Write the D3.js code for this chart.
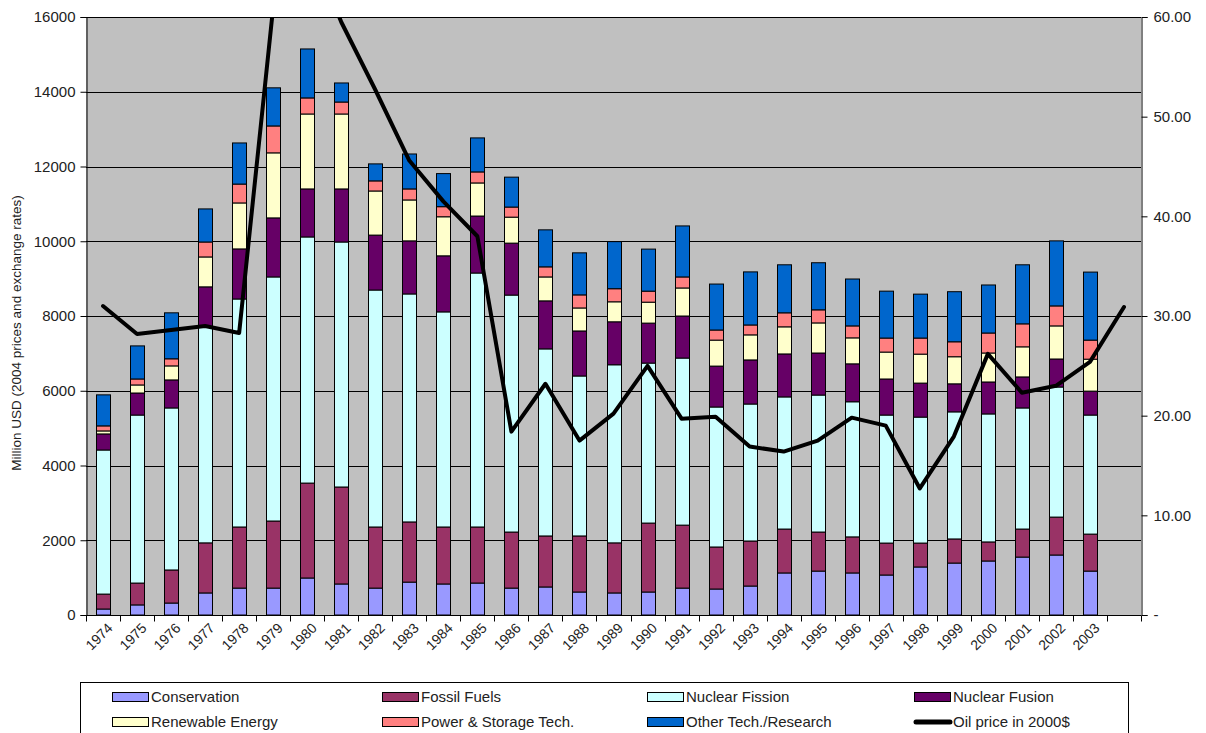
<!DOCTYPE html>
<html>
<head>
<meta charset="utf-8">
<script src="https://cdn.jsdelivr.net/npm/d3@7"></script>
<style>
  body { margin: 0; background: #fff; }
  svg text { font-family: "Liberation Sans", Arial, sans-serif; fill: #222; }
</style>
</head>
<body>
<div id="chart"></div>
<script>
// years on the category axis (2004 has only the oil price)
var years = d3.range(1974, 2005).map(String);

var seriesNames = ["Conservation", "Fossil Fuels", "Nuclear Fission", "Nuclear Fusion",
                   "Renewable Energy", "Power & Storage Tech.", "Other Tech./Research"];
var seriesColors = ["#9999ff", "#993366", "#ccffff", "#660066", "#ffffcc", "#ff8080", "#0066cc"];

// million USD, 1974..2003
var conservation = [160,270,320,590,720,720,990,830,720,880,830,855,720,750,615,590,615,720,695,775,1125,1175,1125,1070,1285,1390,1445,1550,1605,1175];
var fossil       = [400,585,885,1340,1635,1795,2540,2595,1635,1610,1525,1500,1500,1365,1500,1340,1845,1685,1125,1205,1175,1045,965,855,640,645,510,750,1015,990];
var fission      = [3855,4495,4335,5770,6100,6530,6585,6555,6340,6100,5755,6795,6340,5005,4280,4765,4280,4470,3745,3665,3535,3665,3615,3425,3370,3400,3425,3240,3480,3185];
var fusion       = [430,590,750,1080,1340,1580,1285,1420,1470,1420,1500,1525,1390,1285,1205,1150,1070,1125,1095,1180,1150,1125,1015,965,910,750,855,830,750,640];
var renewable    = [80,215,375,800,1230,1740,2005,2005,1180,1095,1045,885,695,640,615,535,560,750,695,670,725,805,695,720,775,725,775,805,885,855];
var power        = [135,160,190,400,505,720,430,320,270,295,270,295,270,270,350,350,295,295,270,265,375,350,320,375,430,400,535,615,535,510];
var other        = [830,885,1230,885,1100,1020,1310,510,455,935,885,910,800,990,1125,1260,1125,1365,1230,1420,1285,1260,1255,1255,1175,1340,1285,1580,1740,1820];

// oil price in 2000$, 1974..2004 (right axis)
var oilPrice = [31.0,28.2,28.6,29.0,28.3,61.0,68.0,59.5,52.7,45.6,41.5,38.0,18.4,23.2,17.5,20.2,25.0,19.7,19.9,16.9,16.4,17.5,19.8,19.0,12.7,17.9,26.2,22.3,23.0,25.4,30.9];

var leftTicks = [0,2000,4000,6000,8000,10000,12000,14000,16000];
var rightTicks = [0,10,20,30,40,50,60];

var margin = {top: 17, left: 86, right: 65, bottom: 118},
    width = 1141 - 86,
    height = 615 - 17;

var svg = d3.select("#chart").append("svg")
  .attr("width", 1206).attr("height", 733);

var g = svg.append("g")
  .attr("transform", "translate(" + margin.left + "," + margin.top + ")");

var x = d3.scaleBand().domain(years).range([0, width]);
var y = d3.scaleLinear().domain([0, 16000]).range([height, 0]);
var y2 = d3.scaleLinear().domain([0, 60]).range([height, 0]);

// plot background
g.append("rect").attr("width", width).attr("height", height).attr("fill", "#c0c0c0");

// gridlines
g.append("g").selectAll("line").data(leftTicks.slice(1)).enter().append("line")
  .attr("x1", 0).attr("x2", width)
  .attr("y1", function(d) { return Math.round(y(d)) + 0.5; })
  .attr("y2", function(d) { return Math.round(y(d)) + 0.5; })
  .attr("stroke", "#000").attr("stroke-width", 1);

// stacked bars
var table = years.slice(0, 30).map(function(yr, i) {
  var row = {year: yr};
  row[seriesNames[0]] = conservation[i];
  row[seriesNames[1]] = fossil[i];
  row[seriesNames[2]] = fission[i];
  row[seriesNames[3]] = fusion[i];
  row[seriesNames[4]] = renewable[i];
  row[seriesNames[5]] = power[i];
  row[seriesNames[6]] = other[i];
  return row;
});
var stack = d3.stack().keys(seriesNames)(table);
var barW = 14;

g.append("g").selectAll("g").data(stack).enter().append("g")
  .attr("fill", function(d, i) { return seriesColors[i]; })
  .selectAll("rect").data(function(d) { return d; }).enter().append("rect")
    .attr("x", function(d) { return Math.round(x(d.data.year) + x.bandwidth() / 2 - barW / 2) + 0.5; })
    .attr("width", barW)
    .attr("y", function(d) { return y(d[1]); })
    .attr("height", function(d) { return y(d[0]) - y(d[1]); })
    .attr("stroke", "#000").attr("stroke-width", 1);

// oil price line, clipped to plot area
svg.append("clipPath").attr("id", "plotclip").append("rect")
  .attr("width", width).attr("height", height);

g.append("path")
  .datum(oilPrice)
  .attr("clip-path", "url(#plotclip)")
  .attr("d", d3.line()
    .x(function(d, i) { return x(years[i]) + x.bandwidth() / 2; })
    .y(function(d) { return y2(d); }))
  .attr("fill", "none").attr("stroke", "#000").attr("stroke-width", 4)
  .attr("stroke-linejoin", "round").attr("stroke-linecap", "round");

// left axis
var yAxis = g.append("g").attr("transform", "translate(0.5,0)")
  .call(d3.axisLeft(y).tickValues(leftTicks).tickSize(6).tickPadding(5).tickFormat(d3.format("d")));
yAxis.select(".domain").attr("stroke", "#000");
yAxis.selectAll("text").style("font-size", "15px");

// right axis
var y2Axis = g.append("g").attr("transform", "translate(" + (width + 0.5) + ",0)")
  .call(d3.axisRight(y2).tickValues(rightTicks).tickSize(6).tickPadding(6)
    .tickFormat(function(d) { return d === 0 ? "-" : d3.format(".2f")(d); }));
y2Axis.selectAll("text").style("font-size", "15px");

// bottom axis
var xAxis = g.append("g").attr("transform", "translate(0," + (height + 0.5) + ")");
xAxis.append("line").attr("x1", 0).attr("x2", width).attr("stroke", "#000");
xAxis.selectAll(".tk").data(d3.range(years.length + 1)).enter().append("line")
  .attr("x1", function(i) { return Math.round(i * x.step()) + 0.5; })
  .attr("x2", function(i) { return Math.round(i * x.step()) + 0.5; })
  .attr("y1", 0).attr("y2", 6).attr("stroke", "#000");
xAxis.selectAll("text").data(years.slice(0, 30)).enter().append("text")
  .attr("transform", function(d) {
    return "translate(" + (x(d) + x.bandwidth() / 2 + 7) + ",10) rotate(-45)";
  })
  .attr("text-anchor", "end")
  .attr("dy", "0.35em")
  .style("font-size", "14px")
  .text(function(d) { return d; });

// y axis title
svg.append("text")
  .attr("transform", "translate(21,333) rotate(-90)")
  .attr("text-anchor", "middle")
  .style("font-size", "13.5px")
  .text("Million USD (2004 prices and exchange rates)");

// legend
var legend = svg.append("g");
legend.append("rect").attr("x", 80.5).attr("y", 682.5).attr("width", 1048).attr("height", 60)
  .attr("fill", "#fff").attr("stroke", "#000");

var legendItems = seriesNames.map(function(n, i) { return {name: n, color: seriesColors[i]}; });
legendItems.push({name: "Oil price in 2000$", line: true});
var colX = [112, 382, 647, 914];

var items = legend.selectAll(".li").data(legendItems).enter().append("g")
  .attr("transform", function(d, i) {
    return "translate(" + colX[i % 4] + "," + (697 + Math.floor(i / 4) * 25) + ")";
  });
items.filter(function(d) { return !d.line; }).append("rect")
  .attr("x", 0.5).attr("y", -4.5).attr("width", 36).attr("height", 9)
  .attr("fill", function(d) { return d.color; }).attr("stroke", "#000");
items.filter(function(d) { return d.line; }).append("line")
  .attr("x1", 2).attr("x2", 36).attr("y1", 0).attr("y2", 0)
  .attr("stroke", "#000").attr("stroke-width", 5).attr("stroke-linecap", "round");
items.append("text").attr("x", 39).attr("dy", "0.35em")
  .style("font-size", "15px")
  .text(function(d) { return d.name; });
</script>
</body>
</html>
